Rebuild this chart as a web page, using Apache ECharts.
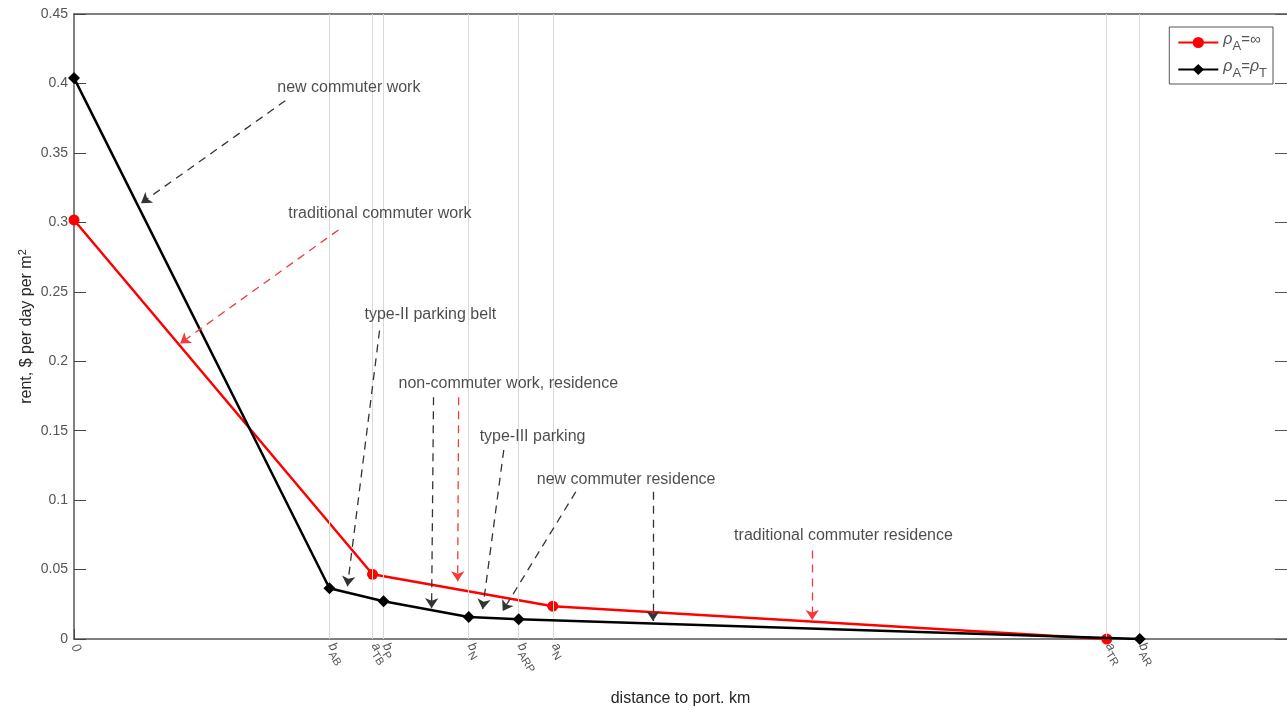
<!DOCTYPE html>
<html>
<head>
<meta charset="utf-8">
<script src="https://cdn.jsdelivr.net/npm/echarts@6/dist/echarts.min.js"></script>
<style>
    html, body {margin: 0; padding: 0; background: #fff;}
    #rentChart {width: 1287px; height: 712px;}
</style>
</head>
<body>
<div id="rentChart"></div>
<script>
// positions on the distance axis (arbitrary km scale 0..100)
var tickPos = [0, 21.06, 24.61, 25.52, 32.54, 36.66, 39.47, 85.14, 87.86];
var tickNames = ['{i|0}', '{i|b}{s|AB}', '{i|a}{s|TB}', '{i|b}{s|P}', '{i|b}{s|N}', '{i|b}{s|ARP}', '{i|a}{s|N}', '{i|a}{s|TR}', '{i|b}{s|AR}'];

var yTicks = [0, 0.05, 0.1, 0.15, 0.2, 0.25, 0.3, 0.35, 0.4, 0.45];

// rho_A = infinity
var redX = [0, 24.61, 39.47, 85.14];
var redY = [0.3017, 0.0466, 0.0236, 0];
// rho_A = rho_T
var blackX = [0, 21.06, 25.52, 32.54, 36.66, 87.86];
var blackY = [0.404, 0.0365, 0.0272, 0.0158, 0.0143, 0];

// annotations: text anchor + arrows [x1, y1, x2, y2, colour]
var noteText = [
    [16.76, 0.397, 'new commuter work'],
    [17.67, 0.306, 'traditional commuter work'],
    [23.95, 0.2336, 'type-II parking belt'],
    [26.75, 0.1842, 'non-commuter work, residence'],
    [33.44, 0.1455, 'type-III parking'],
    [38.15, 0.1146, 'new commuter residence'],
    [54.42, 0.0745, 'traditional commuter residence']
];
var noteArrows = [
    [17.42, 0.3876, 5.53, 0.3138, 'k'],
    [21.80, 0.2945, 8.75, 0.2128, 'r'],
    [25.19, 0.2221, 22.54, 0.0380, 'k'],
    [29.64, 0.1741, 29.48, 0.0222, 'k'],
    [31.71, 0.1741, 31.63, 0.0416, 'r'],
    [35.43, 0.1361, 33.69, 0.0215, 'k'],
    [41.37, 0.1060, 35.34, 0.0201, 'k'],
    [47.73, 0.1060, 47.73, 0.0129, 'k'],
    [60.86, 0.0638, 60.86, 0.0136, 'r']
];

var FONT = '"Liberation Sans", Arial, Helvetica, sans-serif';
var rentChart = echarts.init(document.getElementById('rentChart'));

function zipXY(xs, ys) {
    return xs.map(function (x, i) { return [x, ys[i]]; });
}

function drawRentChart() {
    var arrowData = noteArrows.map(function (a) {
        var c = a[4] === 'r' ? '#f23a3a' : '#333333';
        return {
            coords: [[a[0], a[1]], [a[2], a[3]]],
            lineStyle: {color: c}
        };
    });
    var textData = noteText.map(function (t) { return [t[0], t[1], t[2]]; });

    var option = {
        animation: false,
        backgroundColor: '#fff',
        textStyle: {fontFamily: FONT},
        grid: {left: 74, right: 0, top: 14, bottom: 69},
        legend: {
            right: 14,
            top: 27,
            orient: 'vertical',
            itemWidth: 40,
            itemHeight: 14,
            itemGap: 6,
            padding: [5, 6, 4, 8],
            borderColor: '#555',
            borderWidth: 1,
            backgroundColor: '#fff',
            data: ['inf', 'eq'],
            formatter: function (name) {
                return name === 'inf' ? '{i|ρ}{s|A}{n|=∞}' : '{i|ρ}{s|A}{n|=}{i|ρ}{s|T}';
            },
            textStyle: {
                color: '#444',
                rich: {
                    i: {fontSize: 16, fontStyle: 'italic', verticalAlign: 'top', color: '#555'},
                    s: {fontSize: 13, padding: [8, 0, 0, 0], verticalAlign: 'bottom', color: '#555'},
                    n: {fontSize: 15, verticalAlign: 'top', color: '#555'}
                }
            }
        },
        xAxis: [{
            type: 'value',
            min: 0,
            max: 100,
            position: 'bottom',
            name: 'distance to port. km',
            nameLocation: 'middle',
            nameGap: 52,
            nameTextStyle: {fontSize: 16, color: '#262626'},
            axisLine: {onZero: false, lineStyle: {color: '#555', width: 1.5}},
            axisTick: {inside: true, length: 10, customValues: tickPos, lineStyle: {color: '#444'}},
            axisLabel: {
                customValues: tickPos,
                rotate: -58,
                margin: 6,
                color: '#555',
                formatter: function (v) {
                    var idx = tickPos.indexOf(v);
                    return idx >= 0 ? tickNames[idx] : '';
                },
                rich: {
                    i: {fontSize: 13, fontStyle: 'italic', color: '#555', verticalAlign: 'top'},
                    s: {fontSize: 11, color: '#555', padding: [6, 0, 0, 0], verticalAlign: 'bottom'}
                }
            },
            splitLine: {show: false}
        }, {
            type: 'value',
            min: 0,
            max: 100,
            position: 'top',
            axisLine: {show: true, onZero: false, lineStyle: {color: '#555', width: 1.5}},
            axisTick: {show: false},
            axisLabel: {show: false},
            splitLine: {show: false}
        }],
        yAxis: [{
            type: 'value',
            min: 0,
            max: 0.45,
            interval: 0.05,
            name: 'rent, $ per day per m{sup|2}',
            nameLocation: 'middle',
            nameGap: 37,
            nameMoveOverlap: false,
            nameTextStyle: {
                fontSize: 16,
                color: '#262626',
                rich: {sup: {fontSize: 11, color: '#262626', padding: [0, 0, 9, 0]}}
            },
            axisLine: {show: true, onZero: false, lineStyle: {color: '#555', width: 1.5}},
            axisTick: {show: true, inside: true, length: 12, lineStyle: {color: '#444'}},
            axisLabel: {
                color: '#555',
                fontSize: 14,
                margin: 6,
                formatter: function (v) {
                    return yTicks.indexOf(+v.toFixed(2)) >= 0 ? String(+v.toFixed(2)) : '';
                }
            },
            splitLine: {show: false}
        }, {
            type: 'value',
            min: 0,
            max: 0.45,
            interval: 0.05,
            position: 'right',
            axisLine: {show: false, onZero: false},
            axisTick: {show: true, inside: true, length: 12, lineStyle: {color: '#555'}},
            axisLabel: {show: false},
            splitLine: {show: false}
        }],
        series: [{
            // vertical guide lines at each tick
            type: 'line',
            data: [],
            silent: true,
            markLine: {
                silent: true,
                symbol: 'none',
                label: {show: false},
                lineStyle: {color: '#d9d9d9', type: 'solid', width: 1},
                data: tickPos.slice(1).map(function (p) { return {xAxis: p}; })
            }
        }, {
            name: 'inf',
            type: 'line',
            data: zipXY(redX, redY),
            symbol: 'circle',
            symbolSize: 11,
            lineStyle: {color: '#ff0000', width: 2.5},
            itemStyle: {color: '#ff0000'},
            z: 4
        }, {
            name: 'eq',
            type: 'line',
            data: zipXY(blackX, blackY),
            symbol: 'diamond',
            symbolSize: 12,
            lineStyle: {color: '#000', width: 2.5},
            itemStyle: {color: '#000'},
            z: 5
        }, {
            type: 'lines',
            coordinateSystem: 'cartesian2d',
            silent: true,
            symbol: ['none', 'arrow'],
            symbolSize: 10,
            lineStyle: {width: 1.3, type: [8, 6], opacity: 1},
            data: arrowData,
            z: 6
        }, {
            type: 'scatter',
            data: textData,
            symbolSize: 0,
            silent: true,
            label: {
                show: true,
                position: 'right',
                distance: 0,
                fontSize: 16,
                color: '#1e1e1e',
                formatter: function (p) { return p.value[2]; }
            },
            z: 7
        }]
    };
    rentChart.setOption(option);
}

drawRentChart();
</script>
</body>
</html>
